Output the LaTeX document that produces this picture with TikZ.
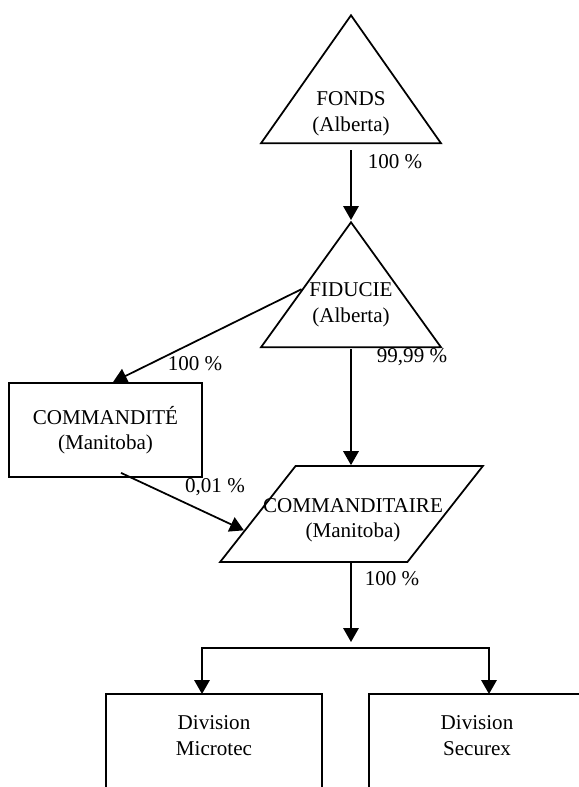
\documentclass[tikz,border=0pt]{standalone}
\usepackage{fontspec}
\setmainfont{Liberation Serif}
\usetikzlibrary{positioning,shapes.geometric,arrows.meta,calc}

\tikzset{
	tri/.style={draw, isosceles triangle, isosceles triangle stretches,
		shape border rotate=90, minimum width=3.6cm, minimum height=2.56cm,
		inner sep=0pt, line width=1pt},
	box/.style={draw, rectangle, line width=1pt, align=center},
	lbl/.style={align=center, inner sep=0pt},
	pct/.style={inner sep=0pt},
	arr/.style={-{Triangle[length=0.28cm,width=0.31cm]}, line width=1pt},
}

\begin{document}
\begin{tikzpicture}[x=0.02cm, y=-0.02cm, font=\fontsize{12}{14.5}\selectfont]
		
		\useasboundingbox (0,0) rectangle (578,787);
		
		% Fonds
		\node [tri,
		anchor=apex
		]  (fonds) at (351,13) {};
		\node [lbl] (fondsTxt) at (351,114) {FONDS\\(Alberta)};
		
		% Fiducie
		\node [tri,
		anchor=apex,
		minimum height=2.5cm
		]  (fiducie) at (351,220) {};
		\node [lbl] (fiducieTxt) at (351,305) {FIDUCIE\\(Alberta)};
		
		% Commandite
		\node [box,
		minimum width=3.86cm,
		minimum height=1.88cm
		]  (commandite) at (105.5,430) {COMMANDITÉ\\(Manitoba)};
		
		% Commanditaire
		\node [draw,
		trapezium,
		trapezium left angle=56,
		trapezium right angle=124,
		trapezium stretches,
		minimum width=5.26cm,
		minimum height=1.92cm,
		line width=1pt
		]  (commanditaire) at (351.5,514) {};
		\node [lbl] (commanditaireTxt) at (353,520) {COMMANDITAIRE\\(Manitoba)};
		
		% Divisions (coupees par le bas de la page)
		\node [minimum width=4.32cm,
		minimum height=2cm,
		anchor=north
		]  (microtec) at (214,694) {};
		\draw[line width=1pt] (microtec.south west) -- (microtec.north west)
			-- (microtec.north east) -- (microtec.south east);
		\node [lbl] (microtecTxt) at (214,735.5) {Division\\Microtec};
		
		\node [minimum width=4.2cm,
		minimum height=2cm,
		anchor=north west
		]  (securex) at (369,694) {};
		\draw[line width=1pt] (securex.south west) -- (securex.north west)
			-- (securex.north east);
		\node [lbl] (securexTxt) at (477,735.5) {Division\\Securex};
		
		% Pourcentages
		\node [pct] (pctFonds) at (395,162) {100 \%};
		\node [pct] (pctCommandite) at (195,364) {100 \%};
		\node [pct] (pctFiducie) at (412,357) {99,99 \%};
		\node [pct] (pctGeneral) at (215,487) {0,01 \%};
		\node [pct] (pctDivisions) at (392,579) {100 \%};
		
		\coordinate (split) at (351,648);
		\coordinate (brL) at (202,648);
		\coordinate (brR) at (489,648);
		
		\draw[arr, shorten <=0.12cm] (fonds.lower side) -- (fiducie.apex);
		
		\draw[arr] ($(fiducie.apex)!0.54!(fiducie.left corner)$) -- ([xshift=0.15cm]commandite.north);
		
		\draw[arr, shorten <=0.02cm] (fiducie.lower side) -- (fiducie.lower side |- commanditaire.north);
		
		\draw[arr] ([xshift=0.31cm,yshift=0.1cm]commandite.south) -- ($(commanditaire.top left corner)!0.667!(commanditaire.bottom left corner)$);
		
		\draw[arr, shorten >=0.12cm] (split |- commanditaire.south) -- (split);
		
		\draw[arr] (split) -- (brL) -- (brL |- microtec.north);
		
		\draw[arr] (split) -- (brR) -- (brR |- securex.north);
		
\end{tikzpicture}
\end{document}
